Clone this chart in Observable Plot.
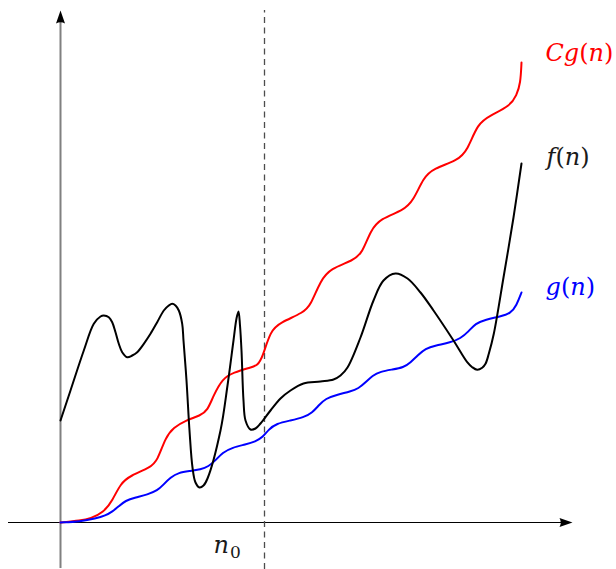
<!DOCTYPE html>
<html>
<head>
<meta charset="utf-8">
<script src="https://cdn.jsdelivr.net/npm/d3@7"></script>
<script src="https://cdn.jsdelivr.net/npm/@observablehq/plot@0.6"></script>
<style>
  html, body { margin: 0; padding: 0; background: #fff; }
  svg { display: block; }
</style>
</head>
<body>
<div id="chart"></div>
<script>
// g(n) samples
const gN = [0,4,7,9,10.4,11.6,13,15,17.4,19.4,20.6,22,23.6,26,28,29.6,31,32.4,34.4,37,39,40.4,41.6,43.2,46,48.6,50.4,51.6,53,55.4,58,59.6,61,62.4,64,66.4,68.6,70,71.4,73,75,78,80,81.6,83,85,88,90,91.2,92.2];
const gV = [0,0.2,0.8,1.4,2.2,3.2,4.4,5,5.6,6.4,7.6,9,10,10.3,10.6,11.2,12.4,14,15,15.6,16.2,17,18.6,19.8,20.4,21,22,23.4,24.8,25.6,26.2,26.8,28,29.4,30.2,30.6,31,32,33.4,34.8,35.4,36,36.8,38.2,39.8,40.6,41.2,41.8,43.4,46];

// C·g(n) samples
const cgN = [0,4,6,8.6,10.4,12,14,18,19.4,21,22.6,25,28,29.4,30.6,32.4,34.6,38,39.4,40.4,42,44,48.6,50,52,54,58.6,60.4,62,64,68.6,70.6,72.6,74.6,79.4,81.4,83.4,86,90,91.2,92,92.2];
const cgV = [0,0.4,0.8,2,4.4,7.8,9.4,11,12.4,17,19,20.4,21.4,22.4,25.4,28.8,30,31,31.4,33,38.4,40,42,43.4,48.4,50.8,52.4,54,58.4,60.8,62.4,64.4,69,70.8,72.4,74.4,79.8,81.4,83.4,85.4,87.8,92];

// f(n) samples
const fN = [0,2,4.66,6.66,8,8.66,9.66,10.34,11,11.66,12.34,13.34,14.34,15.34,16.66,18,19.34,20.66,21.66,22.34,23,23.66,24.34,24.6,25.2,25.8,26.4,27,27.8,28.6,29.4,32,33.4,34.6,35.2,35.6,35.9,36.2,36.6,37,38,39,40,42,44,46,48.6,52,54.6,56,57.4,60,62.6,64.6,67,69.4,72,74.6,78.6,81.34,82.34,83.34,84.34,85,85.66,86.66,88.6,90.6,92.2];
const fV = [20.4,26.4,34.4,39.74,41.2,41.4,41.06,40.06,38.06,35.74,34.06,33.06,33.4,34.06,35.74,37.74,40.06,42.4,43.4,43.74,43.4,42.4,39.74,36.4,28.4,18.4,11,8,7,7.4,8.8,18.4,27.4,36.4,40.8,42.2,39.4,34.4,24.4,20.4,18.6,18.8,19.8,22.4,24.8,26.4,27.8,28.2,28.6,29.4,31,37,44.4,48.4,49.8,48.8,46,42.4,36.4,32.06,31.06,30.54,30.94,31.74,33.74,37.74,49,61,71.8];

// threshold n0 and axis extents
const n0 = 40.8;
const xAxisStart = -10.4, xAxisEnd = 102.4;
const yAxisStart = -9.2, yAxisEnd = 102.4;

// labels: function name (italic), argument (italic) in upright parentheses
const labelFn = ["Cg", "f", "g"];
const labelArg = ["n", "n", "n"];
const labelColors = ["#ff0000", "#1a1a1a", "#0000ff"];
const labelN = [97.0, 97.2, 97.0];
const labelV = [93.8, 73.0, 47.0];
const n0Label = {name: "n", sub: "0", n: 30.6, v: -4.6};

const toRows = (xs, ys) => xs.map((n, i) => ({n, v: ys[i]}));
const labels = labelFn.map((t, i) => ({t: `${t}(${labelArg[i]})`, fn: t, arg: labelArg[i], c: labelColors[i], n: labelN[i], v: labelV[i]}));

// arrowhead symbol: tip at origin, pointing up
const arrowHead = {
  draw(ctx) {
    ctx.moveTo(0, 0);
    ctx.lineTo(4.5, 13);
    ctx.quadraticCurveTo(0, 10.5, -4.5, 13);
    ctx.closePath();
  }
};

const font = "'DejaVu Serif', serif";

const chart = Plot.plot({
  width: 616,
  height: 569,
  margin: 0,
  x: {domain: [-12, 111.2], axis: null},
  y: {domain: [-9.4, 104.4], axis: null},
  style: {background: "#fff", overflow: "visible"},
  marks: [
    Plot.ruleY([0], {x1: xAxisStart, x2: xAxisEnd - 2, stroke: "#000", strokeWidth: 1}),
    Plot.ruleX([0], {y1: yAxisStart, y2: yAxisEnd - 2, stroke: "#808080", strokeWidth: 2}),
    Plot.dot([{n: xAxisEnd, v: 0}], {x: "n", y: "v", symbol: arrowHead, fill: "#000", stroke: "none", rotate: 90, r: 5}),
    Plot.dot([{n: 0, v: yAxisEnd}], {x: "n", y: "v", symbol: arrowHead, fill: "#000", stroke: "none", rotate: 0, r: 5}),
    Plot.ruleX([n0], {y1: -9.4, y2: yAxisEnd, stroke: "#4d4d4d", strokeWidth: 1.3, strokeDasharray: "6,4.5"}),
    Plot.line(toRows(cgN, cgV), {x: "n", y: "v", stroke: "#ff0000", strokeWidth: 2, curve: "basis"}),
    Plot.line(toRows(gN, gV), {x: "n", y: "v", stroke: "#0000ff", strokeWidth: 2, curve: "basis"}),
    Plot.line(toRows(fN, fV), {x: "n", y: "v", stroke: "#000", strokeWidth: 2, curve: "catmull-rom"}),
    Plot.text(labels, {x: "n", y: "v", text: "t", fill: "c", textAnchor: "start", lineAnchor: "middle",
      fontFamily: font, fontSize: 24, className: "fnlabel"}),
    Plot.text([n0Label], {x: "n", y: "v", text: d => d.name + d.sub, textAnchor: "start", lineAnchor: "middle",
      fontFamily: font, fontSize: 24, fill: "#1a1a1a", className: "n0label"})
  ]
});

// typeset labels math-style: italic letters, upright parentheses and subscript
d3.select(chart).selectAll(".fnlabel text").each(function(_, i) {
  const d = labels[i];
  const t = d3.select(this);
  t.text(null);
  t.append("tspan").attr("font-style", "italic").text(d.fn);
  t.append("tspan").text("(");
  t.append("tspan").attr("font-style", "italic").text(d.arg);
  t.append("tspan").text(")");
});
d3.select(chart).selectAll(".n0label text").each(function() {
  const t = d3.select(this);
  t.text(null);
  t.append("tspan").attr("font-style", "italic").text(n0Label.name);
  t.append("tspan").attr("font-size", 17).attr("dy", "0.3em").attr("dx", "1").text(n0Label.sub);
});

document.getElementById("chart").appendChild(chart);
</script>
</body>
</html>
